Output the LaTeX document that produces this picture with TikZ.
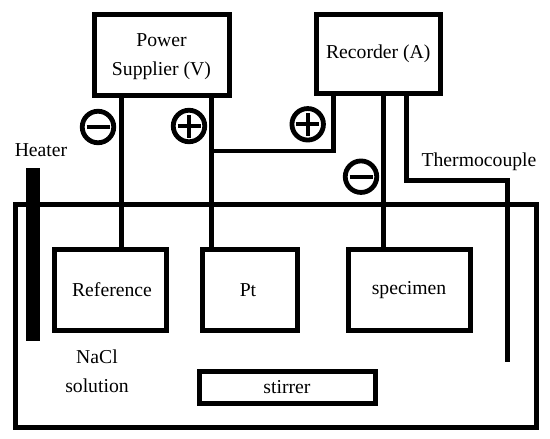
\documentclass[tikz,border=0pt]{standalone}
\usepackage{fontspec}
\setmainfont{Liberation Serif}
\tikzset{
  base/.style={inner sep=0pt,outer sep=0pt,font=\fontsize{19.7}{29}\selectfont,color=black},
  boxnode/.style={base,draw,line width=5pt,rectangle,align=center},
  wire/.style={line width=5pt},
  thinwire/.style={line width=4.5pt},
  txt/.style={base,align=center},
  signbase/.style={draw,circle,line width=4.8pt,minimum size=31.5pt,inner sep=0pt,outer sep=0pt},
  minussign/.style={signbase,path picture={
    \draw[line width=4pt] ([xshift=-11.5pt]path picture bounding box.center) -- ([xshift=11.5pt]path picture bounding box.center);}},
  plussign/.style={signbase,path picture={
    \draw[line width=4pt] ([xshift=-11.5pt]path picture bounding box.center) -- ([xshift=11.5pt]path picture bounding box.center);
    \draw[line width=4pt] ([yshift=-11.5pt]path picture bounding box.center) -- ([yshift=11.5pt]path picture bounding box.center);}},
}
\begin{document}
\begin{tikzpicture}[x=1pt,y=-1pt]
\useasboundingbox (0,0) rectangle (550,439);
% tank
\node[boxnode,minimum width=521.5pt,minimum height=223pt] (tank) at (275.75,316) {};
% boxes
\node[boxnode,minimum width=135pt,minimum height=81pt] (power) at (161.5,54.5) {\rule{0pt}{18pt}Power\\Supplier (V)};
\node[boxnode,minimum width=123.5pt,minimum height=79pt] (recorder) at (378.25,53.5) {Recorder (A)};
\node[boxnode,minimum width=112pt,minimum height=80.5pt] (ref) at (110,289.75) {\hspace{4pt}Reference};
\node[boxnode,minimum width=95pt,minimum height=80.5pt] (pt) at (249.5,289.75) {Pt\hspace{3pt}};
\node[boxnode,minimum width=122pt,minimum height=80.5pt] (spec) at (409,289.75) {specimen};
\node[boxnode,minimum width=176pt,minimum height=32pt] (stirrer) at (287,387) {stirrer};
% heater
\node[base,fill=black,minimum width=13.5pt,minimum height=173pt] (heater) at (32.75,254.5) {};
% wire guides
\coordinate (wa) at (121,0);
\coordinate (wb) at (211,0);
\coordinate (wc) at (333.3,151);
\coordinate (wd) at (383,0);
\coordinate (we) at (406,180);
\coordinate (wf) at (507,180);
\coordinate (tcend) at (507,361.7);
% connectors
\draw[wire] (power.south -| wa) -- (ref.north -| wa);
\draw[wire] (power.south -| wb) -- (pt.north -| wb);
\draw[thinwire] (wb |- wc) -- (wc) -- (recorder.south -| wc);
\draw[wire] (recorder.south -| wd) -- (spec.north -| wd);
\draw[wire] (recorder.south -| we) -- (we) -- (wf) -- (tcend);
% signs
\node[minussign] (s1) at (98,127) {};
\node[plussign] (s2) at (189,126) {};
\node[plussign] (s3) at (307.7,124.3) {};
\node[minussign] (s4) at (361,176.7) {};
% labels
\node[txt] (lheater) at (41,150) {Heater};
\node[txt] (lthermo) at (479,162) {Thermocouple};
\node[txt] (lnacl) at (97,371.5) {NaCl\\solution};
\end{tikzpicture}
\end{document}
